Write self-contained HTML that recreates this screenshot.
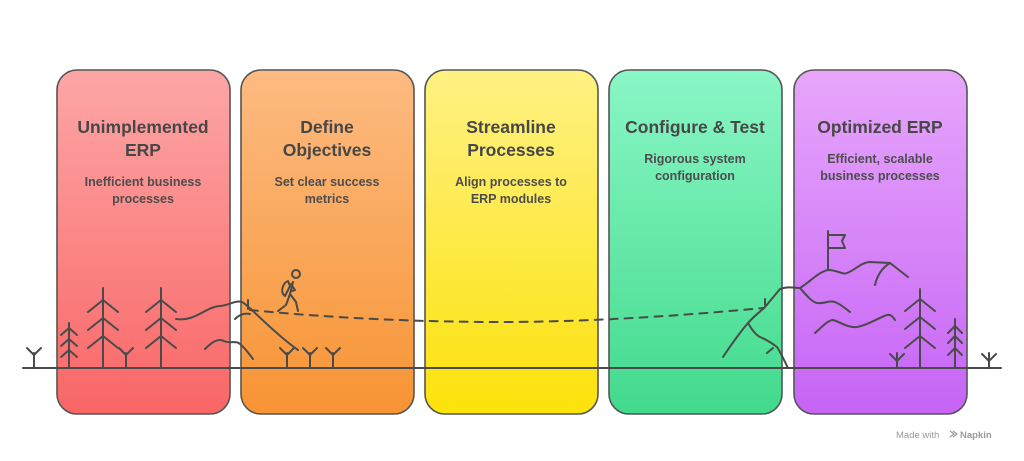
<!DOCTYPE html>
<html><head><meta charset="utf-8"><style>
html,body{margin:0;padding:0;background:#fff;width:1024px;height:461px;overflow:hidden}
svg{display:block}
text{font-family:"Liberation Sans",Arial,sans-serif;fill:#474747;text-anchor:middle}
.t{font-size:17.5px;font-weight:bold}
.s{font-size:12.5px;font-weight:bold;fill:#4d4d4d}
</style></head><body>
<svg width="1024" height="461" viewBox="0 0 1024 461">
<defs>
<linearGradient id="g1" x1="0" y1="0" x2="0" y2="1"><stop offset="0" stop-color="#fda6a6"/><stop offset="1" stop-color="#f96666"/></linearGradient>
<linearGradient id="g2" x1="0" y1="0" x2="0" y2="1"><stop offset="0" stop-color="#fdbb82"/><stop offset="1" stop-color="#f79434"/></linearGradient>
<linearGradient id="g3" x1="0" y1="0" x2="0" y2="1"><stop offset="0" stop-color="#fef184"/><stop offset="1" stop-color="#fde20a"/></linearGradient>
<linearGradient id="g4" x1="0" y1="0" x2="0" y2="1"><stop offset="0" stop-color="#8af6c6"/><stop offset="1" stop-color="#42da8c"/></linearGradient>
<linearGradient id="g5" x1="0" y1="0" x2="0" y2="1"><stop offset="0" stop-color="#e7a6fb"/><stop offset="1" stop-color="#c664f6"/></linearGradient>
</defs>
<g stroke="#555" stroke-width="1.6">
<rect x="57" y="70" width="173" height="344" rx="20" fill="url(#g1)"/>
<rect x="241" y="70" width="173" height="344" rx="20" fill="url(#g2)"/>
<rect x="425" y="70" width="173" height="344" rx="20" fill="url(#g3)"/>
<rect x="609" y="70" width="173" height="344" rx="20" fill="url(#g4)"/>
<rect x="794" y="70" width="173" height="344" rx="20" fill="url(#g5)"/>
</g>
<text class="t" x="143" y="133">Unimplemented</text><text class="t" x="143" y="156">ERP</text>
<text class="s" x="143" y="186">Inefficient business</text><text class="s" x="143" y="203">processes</text>
<text class="t" x="327" y="133">Define</text><text class="t" x="327" y="156">Objectives</text>
<text class="s" x="327" y="186">Set clear success</text><text class="s" x="327" y="203">metrics</text>
<text class="t" x="511" y="133">Streamline</text><text class="t" x="511" y="156">Processes</text>
<text class="s" x="511" y="186">Align processes to</text><text class="s" x="511" y="203">ERP modules</text>
<text class="t" x="695" y="133">Configure &amp; Test</text>
<text class="s" x="695" y="163">Rigorous system</text><text class="s" x="695" y="180">configuration</text>
<text class="t" x="880" y="133">Optimized ERP</text>
<text class="s" x="880" y="163">Efficient, scalable</text><text class="s" x="880" y="180">business processes</text>
<g fill="none" stroke="#4a4a4a" stroke-width="2" stroke-linecap="round" stroke-linejoin="round">
<line x1="23" y1="368" x2="1001" y2="368"/>
<!-- sprouts -->
<path d="M34 368V353M27 348L34 355L41 348"/>
<path d="M126 368V353M119 348L126 355L133 348"/>
<path d="M287 368V353M280 348L287 355L294 348"/>
<path d="M310 368V353M303 348L310 355L317 348"/>
<path d="M333 368V353M326 348L333 355L340 348"/>
<path d="M897 368V353M890 354L897 361L904 354"/>
<path d="M989 368V353M982 354L989 361L996 354"/>
<!-- trees -->
<path d="M69 368V323M61 335L69 328L77 335M61 346L69 339L77 346M61 357L69 350L77 357"/>
<path d="M103 368V288M88 312L103 300L118 312M88 330L103 318L118 330M88 348L103 336L118 348"/>
<path d="M161 368V288M146 312L161 300L176 312M146 330L161 318L176 330M146 348L161 336L176 348"/>
<path d="M920 368V289M905 311L920 299L935 311M905 329L920 317L935 329M905 348L920 336L935 348"/>
<path d="M955 368V319M948 333L955 326L962 333M948 343L955 336L962 343M948 355L955 348L962 355"/>
<!-- left hills -->
<path d="M176 319C195 322 205 307 220 306C230 305 235 300 242 302C250 306 270 330 298 350"/>
<path d="M235 319C240 314 245 313 250 314"/>
<path d="M205 349C212 342 218 338 224 341C230 344 236 340 240 344C245 348 250 355 253 359"/>
<path d="M248 300V309"/>
<!-- dashed -->
<path d="M250 310C330 318 420 322 500 322C600 322 700 314 763 308" stroke-dasharray="8 7"/>
<!-- hiker -->
<circle cx="296" cy="274" r="4"/>
<path d="M293 282L290 294L286 305L278 311M290 294L296 302L298 311M291 284L295 290L292 291"/>
<path d="M288 281C283 283 281 290 283 294L285 296L290 286Z"/>
<!-- right mountain -->
<path d="M723 357C733 342 742 330 748 323C755 315 760 312 765 307L780 289C788 286 795 288 800 288C810 282 818 272 828 270C838 270 842 275 847 273C855 270 862 262 870 262L890 263L908 277"/>
<path d="M748 323C752 330 756 335 760 337C767 340 773 344 777 347C782 355 785 362 788 368"/>
<path d="M767 353L773 348"/>
<path d="M765 299V305"/>
<path d="M875 285C877 276 882 268 890 263"/>
<path d="M800 288C807 296 812 302 817 303C825 304 828 300 835 302C842 305 846 309 850 312"/>
<path d="M815 333C822 327 828 320 833 320C840 322 848 328 857 327C868 325 878 318 887 315C891 314 893 317 895 320"/>
<path d="M828 270V231M828 235H845L842 241L845 248H828"/>
</g>
<text x="928" y="438" style="font-size:9.5px;fill:#9a9a9a;text-anchor:start" x-offset="0"></text>
<text x="896" y="438" style="font-size:9.5px;fill:#9a9a9a;text-anchor:start">Made with</text>
<text x="960" y="438" style="font-size:9.5px;fill:#9a9a9a;text-anchor:start;font-weight:bold">Napkin</text>
<path d="M950 431l4 3-4 3M953 431l4 3-4 3" fill="none" stroke="#9a9a9a" stroke-width="1.2"/>
</svg>
</body></html>
